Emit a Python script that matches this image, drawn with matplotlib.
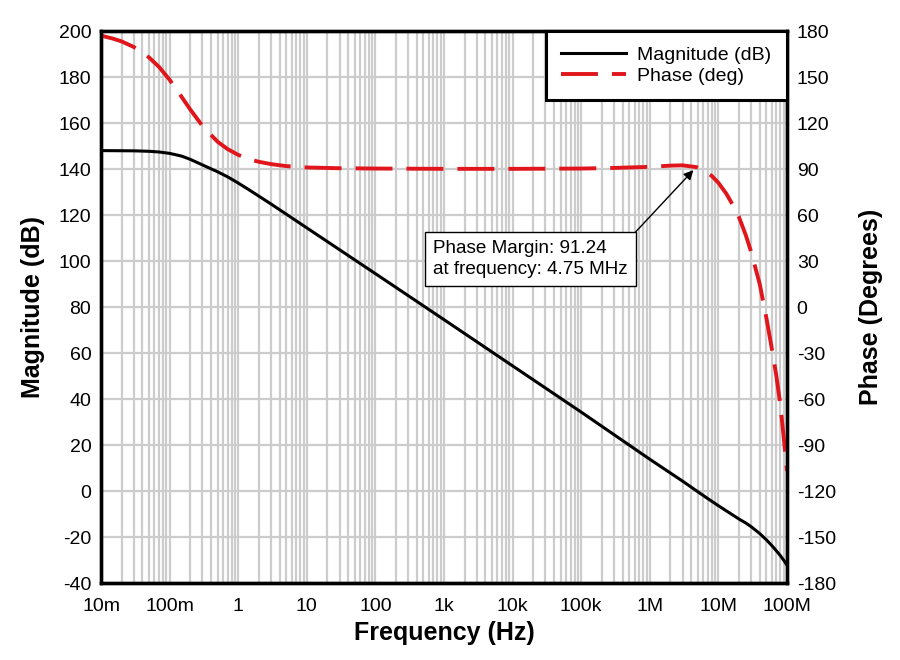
import matplotlib
matplotlib.use("Agg")
import matplotlib.pyplot as plt
from matplotlib.ticker import FixedLocator, LogLocator, NullFormatter, FixedFormatter

plt.rcParams['font.family'] = ['Liberation Sans', 'DejaVu Sans']
plt.rcParams['axes.unicode_minus'] = False

# Data
mag_freq = [0.01, 0.03, 0.05, 0.07, 0.1, 0.15, 0.2, 0.3, 0.5, 0.7, 1, 1.5, 2, 3, 5, 10,
            100, 1e3, 1e4, 1e5, 1e6, 2e6, 3e6, 5e6, 7e6, 1e7, 1.5e7, 2e7, 2.5e7, 3e7,
            4e7, 5e7, 6e7, 7e7, 8e7, 9e7, 1e8]
mag_db = [148.0, 147.9, 147.7, 147.4, 146.8, 145.6, 144.2, 141.8, 138.8, 136.6, 133.9,
          130.6, 128.2, 124.8, 120.4, 114.4, 94.5, 74.5, 54.4, 34.3, 13.8, 7.8, 4.3,
          -0.3, -3.3, -6.4, -9.8, -12.2, -13.9, -15.5, -18.5, -21.2, -23.7, -26.0,
          -28.1, -30.2, -32.3]

ph_freq = [0.01, 0.015, 0.02, 0.03, 0.05, 0.07, 0.1, 0.15, 0.2, 0.3, 0.5, 0.7, 1, 1.5,
           2, 3, 5, 7, 10, 30, 100, 1e3, 1e4, 1e5, 3e5, 1e6, 2e6, 3e6, 4.75e6, 6e6,
           8e6, 1e7, 1.3e7, 1.6e7, 2e7, 2.5e7, 3e7, 4e7, 5e7, 6e7, 7e7, 8e7, 9e7, 1e8]
ph_deg = [177.0, 175.0, 173.2, 169.6, 162.8, 156.6, 148.2, 137.0, 128.8, 118.2, 107.8,
          103.0, 99.2, 96.2, 94.7, 93.2, 91.9, 91.4, 91.0, 90.5, 90.3, 90.1, 90.1, 90.3,
          90.7, 91.4, 92.2, 92.4, 91.24, 89.5, 85.5, 81.0, 74.0, 67.0, 58.5, 47.0, 36.0,
          15.0, -7.0, -27.0, -45.0, -64.0, -86.0, -107.0]

x_ticks = [1e-2, 1e-1, 1, 10, 100, 1e3, 1e4, 1e5, 1e6, 1e7, 1e8]
x_labels = ['10m', '100m', '1', '10', '100', '1k', '10k', '100k', '1M', '10M', '100M']
mag_ticks = list(range(-40, 201, 20))
ph_ticks = list(range(-180, 181, 30))

fig = plt.figure(figsize=(9, 6.6), dpi=100)
ax = fig.add_axes([101/900, 1-583/660, (787-101)/900, (583-31)/660])
ax2 = ax.twinx()

ax.set_xscale('log')
ax.set_xlim(1e-2, 1e8)
ax.set_ylim(-40, 200)
ax2.set_ylim(-180, 180)

ax.xaxis.set_major_locator(FixedLocator(x_ticks))
ax.xaxis.set_major_formatter(FixedFormatter(x_labels))
ax.xaxis.set_minor_locator(LogLocator(base=10, subs=range(2, 10), numticks=100))
ax.xaxis.set_minor_formatter(NullFormatter())
ax.set_yticks(mag_ticks)
ax2.set_yticks(ph_ticks)

grid_c = '#cccccc'
ax.grid(True, which='major', axis='both', color=grid_c, linewidth=1.6)
ax.grid(True, which='minor', axis='x', color=grid_c, linewidth=1.6)
ax.set_axisbelow(True)

for a in (ax, ax2):
    a.tick_params(which='both', length=0, labelsize=14, pad=7)
    for s in a.spines.values():
        s.set_linewidth(2.4)
        s.set_color('black')
ax.tick_params(axis='x', pad=11)

l1, = ax.plot(mag_freq, mag_db, color='black', linewidth=2.2, label='Magnitude (dB)')
l2, = ax2.plot(ph_freq, ph_deg, color='#e0161c', linewidth=2.8, dashes=(9.5, 3.6),
               label='Phase (deg)')

ax.set_xlabel('Frequency (Hz)', fontsize=18, fontweight='bold', labelpad=4)
ax.set_ylabel('Magnitude (dB)', fontsize=18, fontweight='bold', labelpad=10)
ax2.set_ylabel('Phase (Degrees)', fontsize=18, fontweight='bold', labelpad=17)

leg = ax2.legend(handles=[l1, l2], loc='upper right', borderaxespad=0,
                 fontsize=14, frameon=True, fancybox=False, handlelength=3.3,
                 labelspacing=0.15, borderpad=0.8, handletextpad=0.6)
leg.get_frame().set_edgecolor('black')
leg.get_frame().set_linewidth(2.2)
leg.get_frame().set_alpha(1)

ax2.annotate('Phase Margin: 91.24\nat frequency: 4.75 MHz',
             xy=(4.75e6, 91.24), xycoords='data',
             xytext=(433, 401), textcoords='figure pixels',
             ha='left', va='center', fontsize=13.6, linespacing=1.25,
             bbox=dict(boxstyle='square,pad=0.42', facecolor='white',
                       edgecolor='black', linewidth=1),
             arrowprops=dict(arrowstyle='-|>', color='black', lw=1,
                             relpos=(1, 1), shrinkA=0, shrinkB=3,
                             mutation_scale=14))

fig.savefig('out.png', dpi=100)
